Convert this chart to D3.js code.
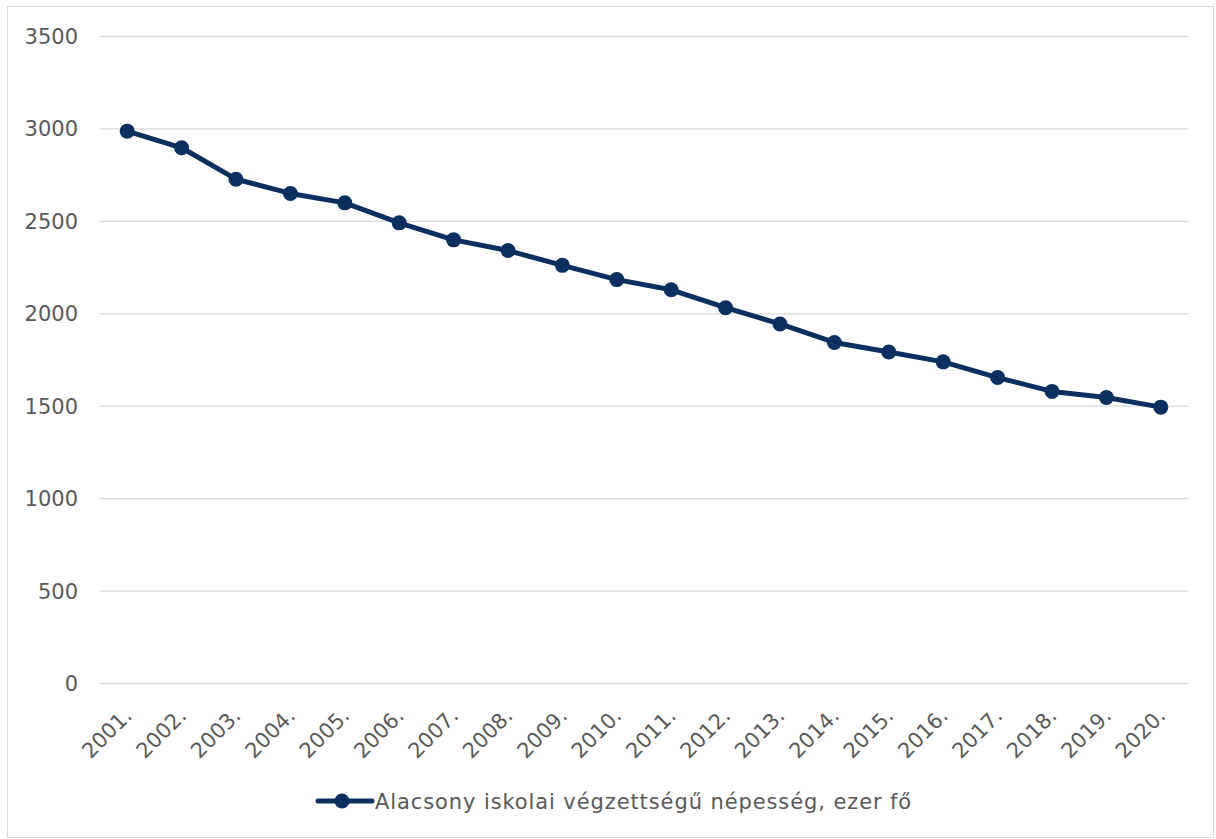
<!DOCTYPE html>
<html>
<head>
<meta charset="utf-8">
<script src="https://cdn.jsdelivr.net/npm/d3@7"></script>
<style>
  body { margin: 0; background: #fff; }
  text { font-family: "DejaVu Sans", sans-serif; fill: #595959; }
</style>
</head>
<body>
<svg id="chart" width="1216" height="839"></svg>
<script>
// data
var years = ["2001.", "2002.", "2003.", "2004.", "2005.", "2006.", "2007.", "2008.", "2009.", "2010.",
             "2011.", "2012.", "2013.", "2014.", "2015.", "2016.", "2017.", "2018.", "2019.", "2020."];
var values = [2988, 2898, 2728, 2651, 2600, 2492, 2400, 2342, 2262, 2185,
              2130, 2033, 1945, 1845, 1793, 1740, 1655, 1580, 1547, 1495];
var yTicks = [0, 500, 1000, 1500, 2000, 2500, 3000, 3500];
var seriesName = "Alacsony iskolai végzettségű népesség, ezer fő";

var navy = "#0b2f5e";
var svg = d3.select("#chart");

// outer frame
svg.append("rect")
  .attr("x", 7.5).attr("y", 6.5)
  .attr("width", 1206).attr("height", 831)
  .attr("fill", "none").attr("stroke", "#d9d9d9").attr("stroke-width", 1);

var plotLeft = 100, plotRight = 1188, plotTop = 36.5, plotBottom = 683.5;

var x = d3.scalePoint().domain(years).range([plotLeft, plotRight]).padding(0.5);
var y = d3.scaleLinear().domain([0, 3500]).range([plotBottom, plotTop]);

// gridlines
svg.append("g").selectAll("line").data(yTicks).enter().append("line")
  .attr("x1", plotLeft).attr("x2", plotRight)
  .attr("y1", function (d) { return y(d); })
  .attr("y2", function (d) { return y(d); })
  .attr("stroke", "#d9d9d9").attr("stroke-width", 1.3);

// y labels
svg.append("g").selectAll("text").data(yTicks).enter().append("text")
  .attr("x", 78)
  .attr("y", function (d) { return y(d); })
  .attr("dy", "0.36em")
  .attr("text-anchor", "end")
  .attr("font-size", 21)
  .text(function (d) { return d; });

// x labels rotated
svg.append("g").selectAll("text").data(years).enter().append("text")
  .attr("text-anchor", "end")
  .attr("font-size", 21)
  .attr("transform", function (d) { return "translate(" + (x(d) + 6) + "," + 717 + ") rotate(-45)"; })
  .text(function (d) { return d; });

// line
var line = d3.line()
  .x(function (d, i) { return x(years[i]); })
  .y(function (d) { return y(d); });

svg.append("path").datum(values)
  .attr("d", line)
  .attr("fill", "none")
  .attr("stroke", navy)
  .attr("stroke-width", 5)
  .attr("stroke-linejoin", "round");

svg.append("g").selectAll("circle").data(values).enter().append("circle")
  .attr("cx", function (d, i) { return x(years[i]); })
  .attr("cy", function (d) { return y(d); })
  .attr("r", 7.5)
  .attr("fill", navy);

// legend
var lg = svg.append("g").attr("transform", "translate(318,801)");
lg.append("line").attr("x1", 0).attr("x2", 54).attr("y1", 0).attr("y2", 0)
  .attr("stroke", navy).attr("stroke-width", 5).attr("stroke-linecap", "round");
lg.append("circle").attr("cx", 24).attr("cy", 0).attr("r", 7.5).attr("fill", navy);
lg.append("text").attr("x", 57).attr("y", 0).attr("dy", "0.36em")
  .attr("font-size", 21).attr("letter-spacing", 0.9).text(seriesName);
</script>
</body>
</html>
